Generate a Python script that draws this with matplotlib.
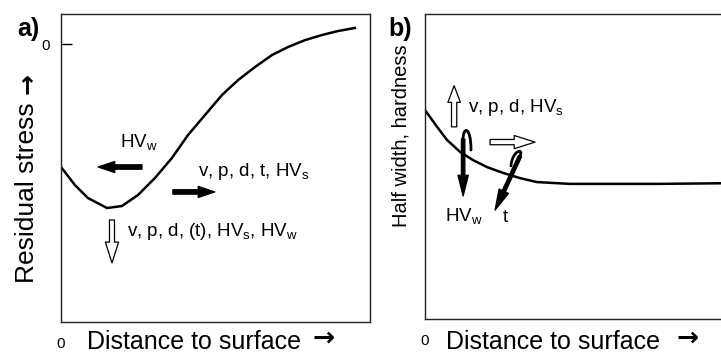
import matplotlib

matplotlib.use("Agg")
import matplotlib.pyplot as plt
from matplotlib.patches import PathPatch
from matplotlib.path import Path

plt.rcParams["font.family"] = ["Liberation Sans", "DejaVu Sans"]
plt.rcParams["mathtext.fontset"] = "custom"
plt.rcParams["mathtext.rm"] = "Liberation Sans"

# panel a: residual stress profile (arbitrary units, 0 at the tick)
dist_a = [0, 4.5, 8.7, 14.9, 19.7, 24.9, 30.4, 35.9, 41.1, 46.6, 52.1,
          57.3, 62.8, 68.3, 73.5, 79.0, 84.5, 89.6, 95.1]
stress_a = [-75.0, -86.0, -93.9, -100.0, -98.8, -92.1, -81.7, -69.5, -55.5,
            -43.3, -31.1, -22.0, -14.0, -6.7, -1.8, 2.4, 5.5, 7.9, 9.8]

# panel b: half width / hardness profile (arbitrary units)
dist_b = [0, 3.9, 7.1, 11.3, 15.5, 20.0, 25.2, 30.6, 36.1, 41.3, 46.8, 56.5, 75.0, 95.5]
hard_b = [68.5, 63.0, 58.7, 54.8, 52.1, 49.8, 47.9, 46.2, 44.9, 44.6, 44.3, 44.3, 44.3, 44.5]

W, H = 721, 353
ANN = 13.5  # annotation font size


def fx(px):
    return px / W


def fy(py):
    return 1 - py / H


def arrow(ax, tail, head, hollow, hl, hw, tw):
    style = f"simple,head_length={hl},head_width={hw},tail_width={tw}"
    ax.annotate("", xy=head, xytext=tail,
                arrowprops=dict(arrowstyle=style, fc="white" if hollow else "black",
                                ec="black", lw=0.9, shrinkA=0, shrinkB=0,
                                mutation_scale=10))


def hook(ax, pts):
    # cubic bezier curl on the tail of an arrow
    path = Path(pts, [Path.MOVETO, Path.CURVE4, Path.CURVE4, Path.CURVE4])
    ax.add_patch(PathPatch(path, fc="none", ec="black", lw=2.0, capstyle="round"))


fig = plt.figure(figsize=(7.21, 3.53), dpi=100)
ax_a = fig.add_axes([fx(61), fy(322), (370 - 61) / W, (322 - 14) / H])
ax_b = fig.add_axes([fx(425), fy(319), 310 / W, (319 - 14) / H])

for ax in (ax_a, ax_b):
    for s in ax.spines.values():
        s.set_linewidth(1.0)
        s.set_color("#222222")
    ax.set_xlim(0, 100)
    ax.set_xticks([0])
    ax.set_xticklabels(["0"])
    ax.tick_params(axis="x", length=0, pad=11, labelsize=11)

# ---- a) ----
ax_a.plot(dist_a, stress_a, color="black", lw=1.8)
ax_a.set_ylim(-169.5, 18.3)
ax_a.set_yticks([0])
ax_a.set_yticklabels(["0"])
ax_a.tick_params(axis="y", direction="in", length=8, width=1, pad=8, labelsize=11)

ax_a.text(19.1, -60.4, r"HV$_\mathrm{w}$", fontsize=ANN, va="center")
arrow(ax_a, (26.2, -75.0), (12.0, -75.0), False, 1.2, 0.8, 0.32)
ax_a.text(44.3, -78.0, r"v, p, d, t, HV$_\mathrm{s}$", fontsize=ANN, va="center")
arrow(ax_a, (36.2, -90.2), (49.8, -90.2), False, 1.2, 0.8, 0.32)
arrow(ax_a, (16.5, -107.3), (16.5, -133.5), True, 1.5, 0.95, 0.36)
ax_a.text(21.4, -114.6, r"v, p, d, (t), HV$_\mathrm{s}$, HV$_\mathrm{w}$",
          fontsize=ANN, va="center")

# ---- b) ----
ax_b.plot(dist_b, hard_b, color="black", lw=1.8)
ax_b.set_ylim(0, 100)
ax_b.set_yticks([])
ax_b.spines["right"].set_visible(False)

arrow(ax_b, (9.4, 63.0), (9.4, 76.5), True, 1.2, 0.9, 0.38)
ax_b.text(13.9, 69.2, r"v, p, d, HV$_\mathrm{s}$", fontsize=ANN, va="center")
arrow(ax_b, (21.0, 58.0), (35.5, 58.0), True, 1.5, 0.95, 0.38)
# black arrows with curled tails
arrow(ax_b, (12.3, 59.0), (12.3, 40.3), False, 1.5, 0.75, 0.25)
hook(ax_b, [(12.26, 58.7), (12.26, 63.3), (14.84, 63.3), (14.84, 55.4)])
arrow(ax_b, (30.65, 53.4), (22.6, 35.7), False, 1.5, 0.75, 0.25)
hook(ax_b, [(30.65, 53.4), (31.94, 56.4), (28.06, 55.1), (27.74, 50.2)])
ax_b.text(6.5, 33.4, r"HV$_\mathrm{w}$", fontsize=ANN, va="center")
ax_b.text(25.2, 33.4, "t", fontsize=ANN, va="center")

# panel letters and axis titles
fig.text(fx(17), fy(29), "a)", fontsize=18, fontweight="bold", va="center")
fig.text(fx(388), fy(29), "b)", fontsize=18, fontweight="bold", va="center")

fig.text(fx(27), fy(283), "Residual stress", rotation=90, ha="center",
         va="bottom", fontsize=19)
fig.text(fx(27), fy(84), "→", rotation=90, ha="center", va="center",
         fontsize=18, fontweight="bold", family="DejaVu Sans")
fig.text(fx(401), fy(227), "Half width, hardness", rotation=90, ha="center",
         va="bottom", fontsize=14.5)

fig.text(fx(87), fy(349), "Distance to surface", fontsize=18, va="baseline")
fig.text(fx(312), fy(346), "→", fontsize=19, fontweight="bold",
         family="DejaVu Sans", va="baseline")
fig.text(fx(446), fy(349), "Distance to surface", fontsize=18, va="baseline")
fig.text(fx(677), fy(346), "→", fontsize=19, fontweight="bold",
         family="DejaVu Sans", va="baseline")

fig.savefig("out.png", dpi=100)
